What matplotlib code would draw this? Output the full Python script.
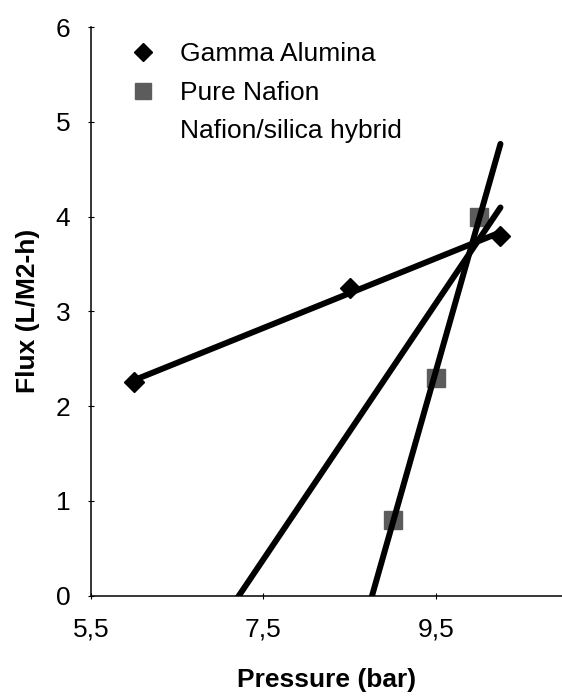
import numpy as np
import matplotlib
matplotlib.use('Agg')
import matplotlib.pyplot as plt
from matplotlib.lines import Line2D
from matplotlib.ticker import FuncFormatter

plt.rcParams['font.family'] = ['Liberation Sans', 'DejaVu Sans']

# Data (pressure in bar, flux in L/M2-h)
gamma_pressure = [6.0, 8.5, 10.25]
gamma_flux = [2.25, 3.25, 3.8]

nafion_pressure = [9.0, 9.5, 10.0]
nafion_flux = [0.8, 2.3, 4.0]

# hybrid markers are not visible in the chart, values estimated from its trendline
hybrid_pressure = [9.0, 9.5, 10.0]
hybrid_flux = [2.4, 3.1, 3.75]

series_names = ['Gamma Alumina', 'Pure Nafion', 'Nafion/silica hybrid']
x_ticks = [5.5, 7.5, 9.5]
y_ticks = [0, 1, 2, 3, 4, 5, 6]

fig = plt.figure(figsize=(5.62, 6.96), dpi=100)
ax = fig.add_axes([0.1619, 0.1441, 0.8381, 0.8171])

# markers
ax.plot(gamma_pressure, gamma_flux, linestyle='none', marker='D', markersize=10.5,
        color='black', zorder=2)
ax.plot(nafion_pressure, nafion_flux, linestyle='none', marker='s', markersize=12.5,
        color='#5c5c5c', zorder=2)

# linear trendlines over the full pressure range of the data
all_x = gamma_pressure + nafion_pressure + hybrid_pressure
xs = np.array([min(all_x), max(all_x)])
for px, fy in [(gamma_pressure, gamma_flux), (nafion_pressure, nafion_flux),
               (hybrid_pressure, hybrid_flux)]:
    k, b = np.polyfit(px, fy, 1)
    ax.plot(xs, k * xs + b, color='black', linewidth=4.3, solid_capstyle='round', zorder=3)

ax.set_xticks(x_ticks)
ax.set_yticks(y_ticks)
ax.set_xlim(5.5, 10.964)
ax.set_ylim(0, 6)
ax.xaxis.set_major_formatter(FuncFormatter(lambda v, p: f'{v:.1f}'.replace('.', ',')))

for s in ['top', 'right']:
    ax.spines[s].set_visible(False)
for s in ['left', 'bottom']:
    ax.spines[s].set_linewidth(1.1)
    ax.spines[s].set_clip_on(False)

ax.tick_params(axis='both', direction='inout', length=4, width=0.8, labelsize=19)
ax.tick_params(axis='x', pad=14)
ax.tick_params(axis='y', pad=13)

ax.set_xlabel('Pressure (bar)', fontsize=19, fontweight='bold')
ax.set_ylabel('Flux (L/M2-h)', fontsize=19, fontweight='bold')
ax.xaxis.set_label_coords(0.5, -0.127)
ax.yaxis.set_label_coords(-0.108, 0.5)

handles = [
    Line2D([], [], linestyle='none', marker='D', markersize=9.5, color='black'),
    Line2D([], [], linestyle='none', marker='s', markersize=12, color='#5c5c5c'),
    Line2D([], [], linestyle='none', marker=None),
]
ax.legend(handles, series_names, loc='upper left', bbox_to_anchor=(0.2313, 0.939),
          bbox_transform=fig.transFigure, frameon=False, fontsize=19,
          handlelength=1.0, handletextpad=0.9, labelspacing=0.55, borderpad=0,
          borderaxespad=0)

fig.savefig('out.png', dpi=100)
